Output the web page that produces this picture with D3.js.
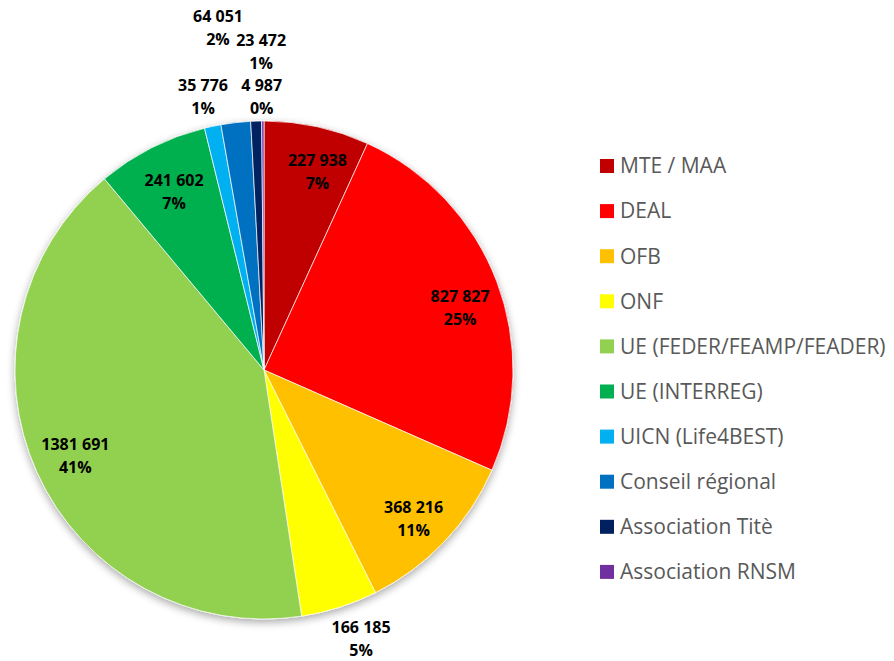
<!DOCTYPE html>
<html>
<head>
<meta charset="utf-8">
<script src="https://cdn.jsdelivr.net/npm/d3@7"></script>
<style>
  body { margin: 0; background: #fff; }
  svg { display: block; }
</style>
</head>
<body>
<svg width="894" height="661"></svg>
<script>
// funding sources, in drawing order (clockwise from top)
var categories = ["MTE / MAA", "DEAL", "OFB", "ONF", "UE (FEDER/FEAMP/FEADER)",
                  "UE (INTERREG)", "UICN (Life4BEST)", "Conseil régional",
                  "Association Titè", "Association RNSM"];
var amounts = [227938, 827827, 368216, 166185, 1381691, 241602, 35776, 64051, 23472, 4987];
var percents = ["7%", "25%", "11%", "5%", "41%", "7%", "1%", "2%", "1%", "0%"];
var colors = ["#C00000", "#FF0000", "#FFC000", "#FFFF00", "#92D050",
              "#00B050", "#00B0F0", "#0070C0", "#002060", "#7030A0"];

// label placement: radius fraction + small nudges (outside ones stacked like in Excel)
var labelRadius = [0.82, 0.83, 0.84, 1.14, 0.84, 0.8, 1.13, 1.38, 1.26, 1.11];
var nudgeX = [10, 3, -2, 11, 2, 0, -3, -7, 7, -1];
var nudgeY = [2, 12, 5, -2, 0, 0, 2, -1, -4, 3];

var cx = 264, cy = 370, R = 249;

var svg = d3.select("svg");

var defs = svg.append("defs");
var f = defs.append("filter").attr("id", "shadow")
    .attr("x", "-10%").attr("y", "-10%").attr("width", "120%").attr("height", "125%");
f.append("feGaussianBlur").attr("in", "SourceAlpha").attr("stdDeviation", 4).attr("result", "b");
f.append("feOffset").attr("in", "b").attr("dx", 0).attr("dy", 3).attr("result", "o");
f.append("feComponentTransfer").attr("in", "o").attr("result", "s")
  .append("feFuncA").attr("type", "linear").attr("slope", 0.35);
var m = f.append("feMerge");
m.append("feMergeNode").attr("in", "s");
m.append("feMergeNode").attr("in", "SourceGraphic");

var data = categories.map(function(c, i) {
  return { name: c, value: amounts[i], pct: percents[i], color: colors[i],
           lr: labelRadius[i], nx: nudgeX[i], ny: nudgeY[i] };
});

var pie = d3.pie().sort(null).value(function(d) { return d.value; });
var arc = d3.arc().innerRadius(0).outerRadius(R);

var g = svg.append("g").attr("transform", "translate(" + cx + "," + cy + ")");

g.append("g").attr("filter", "url(#shadow)")
  .selectAll("path")
  .data(pie(data))
  .enter().append("path")
    .attr("d", arc)
    .attr("fill", function(d) { return d.data.color; })
    .attr("stroke", "rgba(255,255,255,0.7)")
    .attr("stroke-width", 1);

// Excel's "# ##0" only splits the last group: 1381 691
var fmt = function(v) {
  var hi = Math.floor(v / 1000), lo = v % 1000;
  return hi > 0 ? hi + " " + d3.format("03d")(lo) : String(lo);
};

var labels = g.selectAll("text.lbl")
  .data(pie(data))
  .enter().append("text")
    .attr("class", "lbl")
    .attr("text-anchor", "middle")
    .style("font-family", "'Open Sans', sans-serif")
    .style("font-weight", "bold")
    .style("font-size", "16px")
    .attr("fill", "#000")
    .attr("transform", function(d) {
      var a = (d.startAngle + d.endAngle) / 2;
      var r = R * d.data.lr;
      return "translate(" + (Math.sin(a) * r + d.data.nx) + "," + (-Math.cos(a) * r + d.data.ny) + ")";
    });

labels.append("tspan").attr("x", 0).attr("y", -6).text(function(d) { return fmt(d.data.value); });
labels.append("tspan").attr("x", 0).attr("y", 17).text(function(d) { return d.data.pct; });

// legend
var legend = svg.append("g").attr("transform", "translate(600,166)");
var rows = legend.selectAll("g")
  .data(data)
  .enter().append("g")
    .attr("transform", function(d, i) { return "translate(0," + (i * 45.1) + ")"; });

rows.append("rect")
  .attr("x", 0).attr("y", -7).attr("width", 14).attr("height", 14)
  .attr("fill", function(d) { return d.color; });

rows.append("text")
  .attr("x", 20).attr("y", 0)
  .attr("dy", "0.35em")
  .style("font-family", "'Open Sans', sans-serif")
  .style("font-size", "21px")
  .attr("fill", "#595959")
  .text(function(d) { return d.name; });
</script>
</body>
</html>
